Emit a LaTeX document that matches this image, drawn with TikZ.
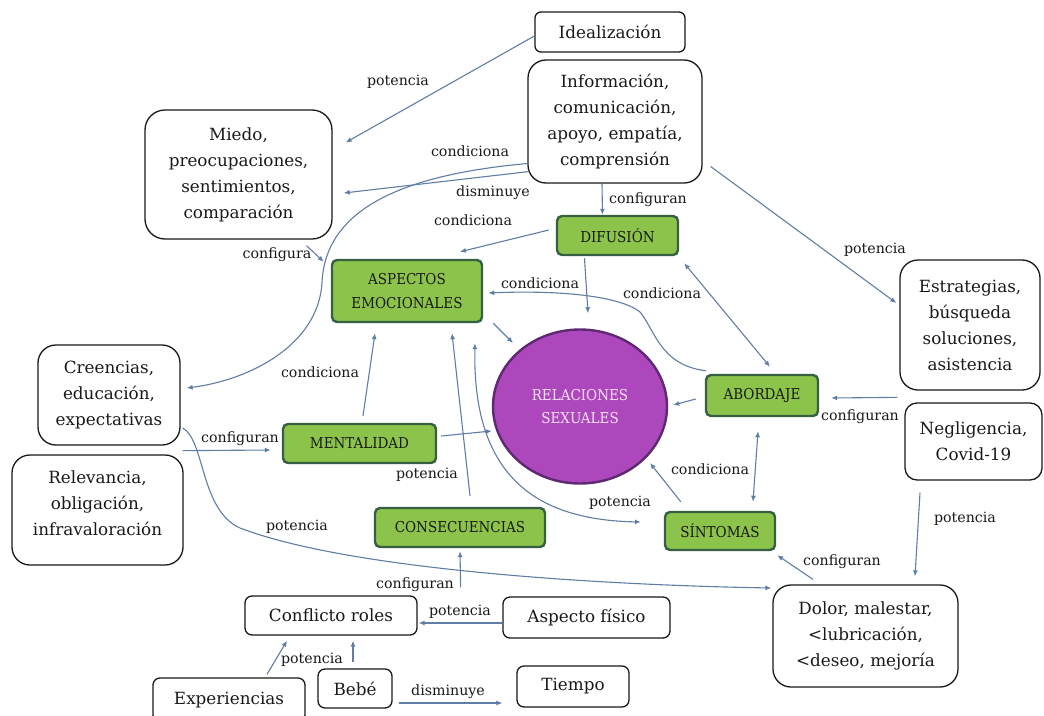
\documentclass[tikz,border=0pt]{standalone}
\usepackage{fontspec}
\setmainfont{DejaVu Serif}
\newfontfamily\condfont{DejaVu Serif Condensed}
\usetikzlibrary{arrows.meta,shapes.geometric,calc}
\definecolor{arrowc}{RGB}{96,125,165}
\definecolor{greenfill}{RGB}{140,195,75}
\definecolor{greenline}{RGB}{55,95,65}
\definecolor{purplefill}{RGB}{172,72,188}
\definecolor{purpleline}{RGB}{95,40,115}
\definecolor{txt}{RGB}{25,25,25}
\definecolor{pinktxt}{RGB}{250,225,250}
\begin{document}
\begin{tikzpicture}[x=1pt,y=-1pt,
  box/.style={draw=txt, line width=1.3pt, rounded corners=#1, align=center, text=txt,
    font=\fontsize{16.8}{26}\selectfont, inner sep=0pt},
  box/.default=8pt,
  btext/.style={align=center, text=txt, font=\fontsize{16.8}{26}\selectfont, inner sep=0pt},
  gbox/.style={draw=greenline, fill=greenfill, line width=2.4pt, rounded corners=5pt,
    align=center, text=txt, font=\condfont\fontsize{15}{24}\selectfont, inner sep=0pt},
  arr/.style={draw=arrowc, line width=1.1pt, -{Latex[length=6pt,width=5pt]}},
  darr/.style={draw=arrowc, line width=1.1pt, {Latex[length=6pt,width=5pt]}-{Latex[length=6pt,width=5pt]}},
  lbl/.style={text=txt, font=\fontsize{14.2}{16}\selectfont, inner sep=0pt}
]
\path[use as bounding box] (0,0) rectangle (1044,715);
\begin{scope}
\clip (0,0) rectangle (1044,715);
% ---------- nodes ----------
\node[box=6pt, minimum width=150pt, minimum height=40pt] (ideal) at (610,32) {Idealización};
\node[box=18pt, minimum width=174pt, minimum height=123pt] (info) at (615,121.5)
  {Información,\\comunicación,\\apoyo, empatía,\\comprensión};
\node[box=20pt, minimum width=187pt, minimum height=129pt] (miedo) at (238.5,174.5)
  {Miedo,\\preocupaciones,\\sentimientos,\\comparación};
\node[gbox, minimum width=121pt, minimum height=39pt] (difu) at (617.5,235.5) {DIFUSIÓN};
\node[gbox, minimum width=150pt, minimum height=62pt] (aspe) at (407,291) {ASPECTOS\\EMOCIONALES};
\node[box=18pt, minimum width=140pt, minimum height=130pt] (estr) at (970,325)
  {Estrategias,\\búsqueda\\soluciones,\\asistencia};
\node[box=18pt, minimum width=142pt, minimum height=100pt] (cree) at (109,395)
  {Creencias,\\educación,\\expectativas};
\node[box=18pt, minimum width=171pt, minimum height=110pt] (rele) at (97.5,510) {};
\node[btext] (reletxt) at (97.5,503) {Relevancia,\\obligación,\\infravaloración};
\node[gbox, minimum width=153pt, minimum height=39pt] (ment) at (359.5,443.5) {MENTALIDAD};
\node[ellipse, draw=purpleline, fill=purplefill, line width=2.4pt, minimum width=174pt,
  minimum height=154pt, inner sep=0pt, text=pinktxt, align=center,
  font=\condfont\fontsize{15}{23}\selectfont] (rel) at (580,406.5) {RELACIONES\\SEXUALES};
\node[gbox, minimum width=112pt, minimum height=41pt] (abor) at (762,395.5) {ABORDAJE};
\node[box=12pt, minimum width=137pt, minimum height=77pt] (negl) at (973.5,441.5)
  {Negligencia,\\Covid-19};
\node[gbox, minimum width=110pt, minimum height=38pt] (sint) at (720,531) {SÍNTOMAS};
\node[gbox, minimum width=170pt, minimum height=39pt] (cons) at (460,527.5) {CONSECUENCIAS};
\node[box=18pt, minimum width=185pt, minimum height=102pt] (dolor) at (865.5,636)
  {Dolor, malestar,\\<lubricación,\\<deseo, mejoría};
\node[box=7pt, minimum width=172pt, minimum height=39pt] (confl) at (331,615.5) {Conflicto roles};
\node[box=7pt, minimum width=167pt, minimum height=41pt] (aspf) at (586.5,617.5) {Aspecto físico};
\node[box=7pt, minimum width=152pt, minimum height=44pt] (exper) at (229,700) {Experiencias};
\node[box=7pt, minimum width=74pt, minimum height=39pt] (bebe) at (355,688.5) {Bebé};
\node[box=7pt, minimum width=112pt, minimum height=41pt] (tiempo) at (573,686.5) {Tiempo};
% ---------- connectors ----------
\draw[arr] ($(ideal.west)+(0,4)$) -- ($(miedo.east)+(13,-32)$);
\draw[arr] ($(info.west)+(2,50)$) -- ($(miedo.east)+(11,18.5)$);
\draw[arr] ($(info.west)+(0,42)$) .. controls (400,175) and (325,210) .. (322,283)
  .. controls (318,345) and (250,380) .. ($(cree.east)+(6,-7)$);
\draw[arr] ($(info.south)+(-13,0)$) -- ($(difu.north)+(-15,0)$);
\draw[arr] ($(info.east)+(8,45)$) -- ($(estr.west)+(-3,-22)$);
\draw[arr] ($(difu.west)+(-7,-5.5)$) -- ($(aspe.north)+(53,-7)$);
\draw[arr] ($(miedo.south)+(68,6)$) -- ($(aspe.north west)+(-7,3)$);
\draw[arr] ($(abor.north west)+(1,-3)$) .. controls (660,365) and (655,330) .. (640,312)
  .. controls (620,296) and (560,290) .. ($(aspe.east)+(5,2)$);
\draw[arr] ($(aspe.south east)+(10,0)$) -- ($(rel.center)+(-67,-63.5)$);
\draw[arr] ($(difu.south)+(-33,2)$) -- ($(rel.north)+(8,-15)$);
\draw[darr] ($(difu.south east)+(5,7)$) -- ($(abor.north)+(8,-7)$);
\draw[arr] ($(negl.north west)+(-7,-5)$) -- ($(abor.east)+(12,2.5)$);
\draw[arr] ($(abor.west)+(-9,3.5)$) -- ($(rel.east)+(5,-1.5)$);
\draw[darr] ($(abor.south)+(-4,14)$) -- ($(sint.north)+(33,-9)$);
\draw[arr] ($(sint.north west)+(17,-9)$) -- ($(rel.center)+(70,56.5)$);
\draw[darr] ($(aspe.south)+(68,20)$) .. controls (472,480) and (540,520) .. ($(sint.west)+(-23,-9)$);
\draw[arr] ($(cons.north)+(10,-11)$) -- ($(aspe.south)+(45,10)$);
\draw[arr] ($(ment.north)+(3.5,-7)$) -- ($(aspe.south)+(-32,10)$);
\draw[arr] ($(ment.east)+(4,-7.5)$) -- ($(rel.west)+(0,24.5)$);
\draw[arr] ($(cree.south east)+(2,5)$) -- ($(ment.west)+(-11,6.5)$);
\draw[arr] ($(cree.east)+(2,33)$) .. controls (205,440) and (200,510) .. (240,528)
  .. controls (350,570) and (600,585) .. ($(dolor.west)+(-1,-48)$);
\draw[arr] ($(confl.north east)+(43,-8)$) -- ($(cons.south)+(0,3)$);
\draw[arr] ($(aspf.west)+(0,5.5)$) -- ($(confl.east)+(1,7.5)$);
\draw[arr] ($(exper.north)+(38,-3)$) -- ($(confl.south)+(-44,5)$);
\draw[arr] ($(bebe.north)+(-2,-6)$) -- ($(confl.south)+(22,5)$);
\draw[arr] ($(bebe.east)+(6,14.5)$) -- ($(tiempo.west)+(-14,16.5)$);
\draw[arr] ($(negl.south)+(-53.5,12)$) -- ($(dolor.north)+(49.5,-8)$);
\draw[arr] ($(dolor.north)+(-52.5,-5)$) -- ($(sint.south east)+(1,4)$);
% ---------- labels ----------
\node[lbl] (l1) at (398,82) {potencia};
\node[lbl] (l2) at (470,151) {condiciona};
\node[lbl] (l3) at (493,193) {disminuye};
\node[lbl] (l4) at (473,220) {condiciona};
\node[lbl] (l5) at (648,200) {configuran};
\node[lbl] (l6) at (875,250) {potencia};
\node[lbl] (l7) at (277,255) {configura};
\node[lbl] (l8) at (540,283) {condiciona};
\node[lbl] (l9) at (662,293) {condiciona};
\node[lbl] (l10) at (860,417) {configuran};
\node[lbl] (l11) at (710,469) {condiciona};
\node[lbl] (l12) at (620,503) {potencia};
\node[lbl] (l13) at (427,475) {potencia};
\node[lbl] (l14) at (320,372) {condiciona};
\node[lbl] (l15) at (240,439) {configuran};
\node[lbl] (l16) at (297,527) {potencia};
\node[lbl] (l17) at (415,585) {configuran};
\node[lbl] (l18) at (460,612) {potencia};
\node[lbl] (l19) at (312,660) {potencia};
\node[lbl] (l20) at (448,692) {disminuye};
\node[lbl] (l21) at (965,519) {potencia};
\node[lbl] (l22) at (842,562) {configuran};
\end{scope}
\end{tikzpicture}
\end{document}
